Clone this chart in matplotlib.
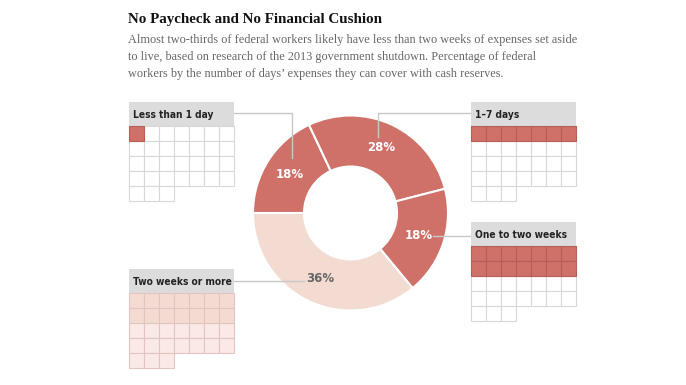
import matplotlib.pyplot as plt
from matplotlib.patches import Rectangle

# Data
categories = ['Less than 1 day', '1–7 days', 'One to two weeks', 'Two weeks or more']
percents = [18, 28, 18, 36]
days_covered = [1, 7, 14, 14]
days_in_month = 31

title = "No Paycheck and No Financial Cushion"
subtitle = ["Almost two-thirds of federal workers likely have less than two weeks of expenses set aside",
            "to live, based on research of the 2013 government shutdown. Percentage of federal",
            "workers by the number of days\u2019 expenses they can cover with cash reserves."]

DARK = '#cf7168'
DARK_EDGE = '#b65e57'
LIGHT = '#f3dbd2'
LIGHTER = '#fbe9e8'
LIGHT_EDGE = '#e2c5c1'
GRID_EDGE = '#d8d8d8'
HEADER = '#dcdcdc'
LINE = '#c8c8c8'

fig = plt.figure(figsize=(6.86, 3.85), dpi=100)
ax = fig.add_axes([0, 0, 1, 1])

# Donut
center = (350.5, 213)
radius = 97.5
wedges, texts, autotexts = ax.pie(
    percents, center=center, radius=radius, startangle=180, counterclock=True,
    colors=[DARK, DARK, DARK, LIGHT], autopct='%d%%', pctdistance=0.74,
    wedgeprops=dict(width=51, edgecolor='white', linewidth=1.5),
    textprops=dict(fontsize=8.5, fontweight='bold', family='DejaVu Sans'))
for i, t in enumerate(autotexts):
    t.set_color('white' if i < 3 else '#666666')

ax.set_xlim(0, 686)
ax.set_ylim(385, 0)
ax.set_aspect('auto')
ax.axis('off')

# Waffle boxes: (left, header top)
boxes = [(129, 102), (471, 102), (471, 222), (129, 269)]
cell = 15
header_h = 24
for i, (cat, n, (bx, by)) in enumerate(zip(categories, days_covered, boxes)):
    ax.add_patch(Rectangle((bx, by), 7 * cell, header_h, facecolor=HEADER, edgecolor='none', zorder=2))
    ax.text(bx + 4, by + header_h / 2 + 1, cat, fontsize=7.3, fontweight='bold', color='#222222',
            fontstretch='condensed', va='center', ha='left', zorder=3)
    top = by + header_h
    for d in range(days_in_month):
        r, c = divmod(d, 7)
        filled = d < n
        if i < 3:
            fc = DARK if filled else 'white'
            ec = DARK_EDGE if filled else GRID_EDGE
        else:
            fc = LIGHT if filled else LIGHTER
            ec = LIGHT_EDGE
        ax.add_patch(Rectangle((bx + c * cell, top + r * cell), cell, cell,
                               facecolor=fc, edgecolor=ec, linewidth=0.8, zorder=2 if not filled else 2.5))

# Leader lines from header boxes to percentage labels
lx = [t.get_position() for t in autotexts]
ax.plot([boxes[0][0] + 7 * cell, lx[0][0] + 2, lx[0][0] + 2],
        [boxes[0][1] + 11, boxes[0][1] + 11, lx[0][1] - 16], color=LINE, lw=1, zorder=1)
ax.plot([boxes[1][0], lx[1][0] - 3, lx[1][0] - 3],
        [boxes[1][1] + 11, boxes[1][1] + 11, lx[1][1] - 11], color=LINE, lw=1, zorder=1)
ax.plot([lx[2][0] + 14, boxes[2][0]], [boxes[2][1] + 14, boxes[2][1] + 14], color=LINE, lw=1, zorder=1)
ax.plot([boxes[3][0] + 7 * cell, lx[3][0] - 16], [boxes[3][1] + 12, boxes[3][1] + 12],
        color=LINE, lw=1, zorder=1)

# Title and subtitle
fig.text(128 / 686, 1 - 20 / 385, title, fontsize=10.8, fontweight='bold', family='Liberation Serif',
         color='#111111', va='center', ha='left')
for k, line in enumerate(subtitle):
    fig.text(128 / 686, 1 - (40.5 + 16.5 * k) / 385, line, fontsize=8.85, family='Liberation Serif',
             color='#666666', va='center', ha='left')

fig.savefig('out.png', dpi=100)
